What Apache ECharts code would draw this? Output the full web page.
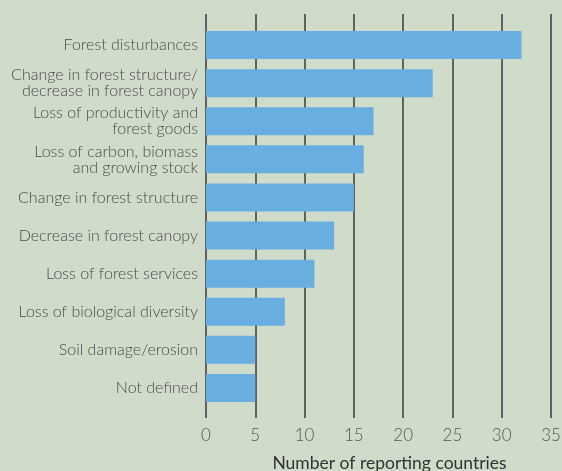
<!DOCTYPE html>
<html><head><meta charset="utf-8">
<script src="https://cdn.jsdelivr.net/npm/echarts@6/dist/echarts.min.js"></script>
<style>html,body{margin:0;padding:0;background:#d0dcca;}#c{width:562px;height:471px;}</style>
</head><body><div id="c"></div>
<script>
const categories = [
  "Forest disturbances",
  "Change in forest structure/\ndecrease in forest canopy",
  "Loss of productivity and\nforest goods",
  "Loss of carbon, biomass\nand growing stock",
  "Change in forest structure",
  "Decrease in forest canopy",
  "Loss of forest services",
  "Loss of biological diversity",
  "Soil damage/erosion",
  "Not defined"
];
const values = [32, 23, 17, 16, 15, 13, 11, 8, 5, 5];
const xTicks = { min: 0, max: 35, interval: 5 };
const axisTitle = "Number of reporting countries";

const chart = echarts.init(document.getElementById('c'));
const font = "'Lato','Noto Sans',sans-serif";
chart.setOption({
  backgroundColor: '#d0dcca',
  animation: false,
  grid: [
    { left: 206, right: 11, top: 14, bottom: 53, outerBoundsMode: 'none', containLabel: false },
    { left: 206, right: 11, top: 26, bottom: 64, outerBoundsMode: 'none', containLabel: false }
  ],
  xAxis: [
    { gridIndex: 0, type: 'value', min: xTicks.min, max: xTicks.max, interval: xTicks.interval,
      axisLine: { show: false }, axisTick: { show: false },
      splitLine: { show: true, lineStyle: { color: '#3a3a3a', width: 1.5 } },
      axisLabel: { margin: 9, fontSize: 17, color: '#555', fontFamily: font, fontWeight: 300 },
      name: axisTitle, nameLocation: 'middle', nameGap: 36,
      nameTextStyle: { fontSize: 17.5, color: '#333', fontFamily: font, padding: [0, 0, 0, 22] } },
    { gridIndex: 1, type: 'value', min: xTicks.min, max: xTicks.max, show: false }
  ],
  yAxis: [
    { gridIndex: 0, type: 'value', show: false, min: 0, max: 1 },
    { gridIndex: 1, type: 'category', data: categories, inverse: true,
      axisLine: { show: false }, axisTick: { show: false },
      axisLabel: { margin: 8, fontSize: 16, lineHeight: 16, color: '#4a4a4a', fontFamily: font, fontWeight: 300, align: 'right' } }
  ],
  series: [{
    type: 'bar', xAxisIndex: 1, yAxisIndex: 1, data: values, barWidth: 28,
    itemStyle: { color: '#69aee0' }
  }]
});
</script></body></html>
